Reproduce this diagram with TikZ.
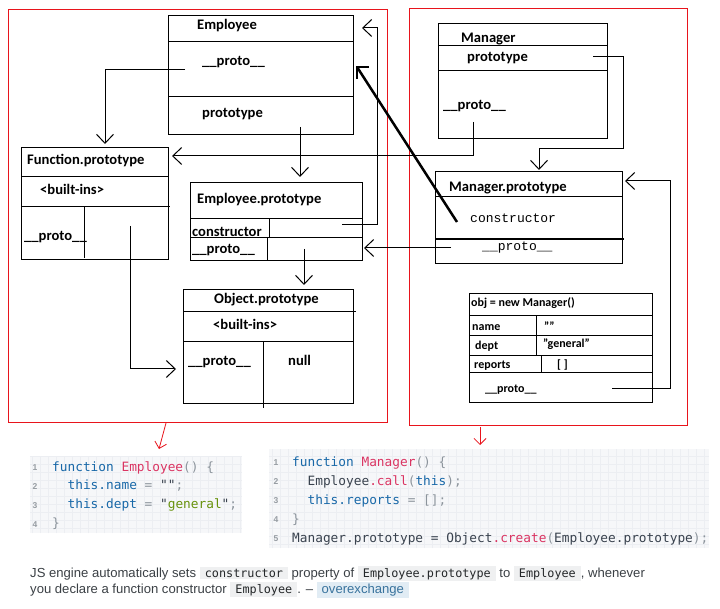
\documentclass[tikz,border=0pt]{standalone}
\usepackage{fontspec}
\setmainfont{Carlito}
\setsansfont{Liberation Sans}
\setmonofont{DejaVu Sans Mono}
\newfontfamily\courierfont{Liberation Mono}
\usetikzlibrary{arrows.meta}

\definecolor{framered}{RGB}{232,20,28}
\definecolor{kwblue}{RGB}{24,104,168}
\definecolor{fnred}{RGB}{218,52,98}
\definecolor{strgreen}{RGB}{104,146,12}
\definecolor{punct}{RGB}{140,148,156}
\definecolor{plain}{RGB}{57,66,78}
\definecolor{codebg}{RGB}{246,247,249}
\definecolor{codegrid}{RGB}{236,238,242}
\definecolor{lineno}{RGB}{150,156,162}
\definecolor{txtcol}{RGB}{59,64,69}
\definecolor{inlbg}{RGB}{239,240,241}
\definecolor{inltext}{RGB}{36,39,41}
\definecolor{linkbg}{RGB}{225,236,244}
\definecolor{linkcol}{RGB}{57,115,157}

\newcommand{\kw}[1]{\textcolor{kwblue}{#1}}
\newcommand{\fn}[1]{\textcolor{fnred}{#1}}
\newcommand{\str}[1]{\textcolor{strgreen}{#1}}
\newcommand{\pu}[1]{\textcolor{punct}{#1}}
\newcommand{\pl}[1]{\textcolor{plain}{#1}}
\newcommand{\ind}{\phantom{xx}}
\newcommand{\inl}[1]{{\setlength{\fboxsep}{2pt}\colorbox{inlbg}{\hspace{3pt}\ttfamily\fontsize{11.8}{14}\selectfont\color{inltext}#1\hspace{3pt}}}}
\newcommand{\linkbox}[1]{{\setlength{\fboxsep}{2pt}\colorbox{linkbg}{\hspace{3pt}\color{linkcol}#1\hspace{3pt}}}}

\tikzset{
  box/.style={draw, line width=1pt, inner sep=0pt, anchor=north west},
  lbl/.style={anchor=base west, inner sep=0pt, font=\bfseries\fontsize{14.6}{16}\selectfont},
  objlbl/.style={anchor=base west, inner sep=0pt, font=\bfseries\fontsize{12}{14}\selectfont},
  mono/.style={anchor=base west, inner sep=0pt, font=\courierfont\fontsize{13}{15}\selectfont},
  arr/.style={-{Straight Barb[length=9pt,width=17pt]}, line width=1pt},
  thickline/.style={line width=2.5pt},
  redframe/.style={draw=framered, line width=1.2pt},
  redarr/.style={-{Straight Barb[length=6pt,width=12pt]}, draw=framered, line width=0.8pt},
  code/.style={anchor=base west, inner sep=0pt, font=\ttfamily\fontsize{12.8}{15}\selectfont},
  lnum/.style={anchor=base, inner sep=0pt, text=lineno, font=\sffamily\bfseries\fontsize{8.5}{10}\selectfont},
  note/.style={anchor=base west, inner sep=0pt, text=txtcol, font=\sffamily\fontsize{13.1}{15}\selectfont}
}

\begin{document}
\begin{tikzpicture}[x=1pt, y=-1pt]
\useasboundingbox (0,0) rectangle (720,609);
\fill[white] (0,0) rectangle (720,609);

% red frames
\draw[redframe] (8.5,9.5) rectangle (387.5,422.5);
\draw[redframe] (409.5,8.5) rectangle (687.5,425.5);
\coordinate (redLstart) at (166,423);
\coordinate (redLend) at (159,449);
\coordinate (redRstart) at (480,427);
\coordinate (redRend) at (480,445);
\draw[redarr] (redLstart) -- (redLend);
\draw[redarr] (redRstart) -- (redRend);

% Employee
\node[box, minimum width=185pt, minimum height=119pt] (employee) at (168,15) {};
\draw[line width=1pt] (168,42) -- (353,42);
\draw[line width=1pt] (168,97) -- (353,97);
\node[lbl] (empName) at (197,29.5) {Employee};
\node[lbl] (empProto) at (202,66) {\_\_proto\_\_};
\node[lbl] (empPr) at (202,118) {prototype};

% Function.prototype
\node[box, minimum width=147pt, minimum height=112pt] (fnproto) at (21,147) {};
\draw[line width=1pt] (21,177) -- (168,177);
\draw[line width=1pt] (21,207) -- (170,207);
\draw[line width=1pt] (84,207) -- (84,258);
\node[lbl] (fpName) at (27,165) {Function.prototype};
\node[lbl] (fpBuilt) at (40,195) {<built-ins>};
\node[lbl] (fpProto) at (24,241) {\_\_proto\_\_};

% Employee.prototype
\node[box, minimum width=172pt, minimum height=78pt] (empproto) at (190,182) {};
\draw[line width=1pt] (190,219) -- (363,219);
\draw[line width=1pt] (190,238) -- (362,238);
\draw[line width=1pt] (269,219) -- (269,238);
\draw[line width=1pt] (267,238) -- (267,260);
\node[lbl] (epName) at (197,204) {Employee.prototype};
\node[lbl] (epCtor) at (192,237) {constructor};
\node[lbl] (epProto) at (192,254) {\_\_proto\_\_};

% Object.prototype
\node[box, minimum width=170pt, minimum height=114pt] (objproto) at (183,289) {};
\draw[line width=1pt] (183,312) -- (356,312);
\draw[line width=1pt] (183,342) -- (353,342);
\draw[line width=1pt] (263,342) -- (263,408);
\node[lbl] (opName) at (214,304) {Object.prototype};
\node[lbl] (opBuilt) at (213,330) {<built-ins>};
\node[lbl] (opProto) at (188,366) {\_\_proto\_\_};
\node[lbl] (opNull) at (288,366) {null};

% Manager
\node[box, minimum width=169pt, minimum height=115pt] (manager) at (438,23) {};
\draw[line width=1pt] (438,46) -- (607,46);
\draw[line width=1pt] (438,71) -- (607,71);
\node[lbl] (mgName) at (461,43) {Manager};
\node[lbl] (mgPr) at (467,62) {prototype};
\node[lbl] (mgProto) at (443,110) {\_\_proto\_\_};

% Manager.prototype
\node[box, minimum width=187pt, minimum height=92pt] (mproto) at (435,171) {};
\draw[line width=1pt] (435,197) -- (622,197);
\draw[line width=2pt] (435,239) -- (624,239);
\node[lbl] (mpName) at (449,192) {Manager.prototype};
\node[mono] (mpCtor) at (470,223) {constructor};
\node[mono] (mpProto) at (482,251) {\_\_proto\_\_};

% obj = new Manager()
\node[box, minimum width=183pt, minimum height=109pt] (objbox) at (469,293) {};
\draw[line width=1pt] (469,316) -- (652,316);
\draw[line width=1pt] (469,336) -- (652,336);
\draw[line width=1pt] (469,356) -- (652,356);
\draw[line width=1pt] (469,373) -- (652,373);
\draw[line width=1pt] (536,316) -- (536,356);
\draw[line width=1pt] (541,356) -- (541,373);
\node[objlbl] (obTitle) at (471,307) {obj = new Manager()};
\node[objlbl] (obName) at (472,331) {name};
\node[objlbl] (obNameV) at (544,331) {""};
\node[objlbl] (obDept) at (475,350) {dept};
\node[objlbl] (obDeptV) at (543,348) {"general"};
\node[objlbl] (obRep) at (474,369) {reports};
\node[objlbl] (obRepV) at (557,369) {[ ]};
\node[objlbl] (obProto) at (485,392) {\_\_proto\_\_};

% connectors
\coordinate (empProtoOut) at (185,70);
\coordinate (c1) at (105,70);
\draw[arr, shorten >=3pt] (empProtoOut) -- (c1) -- (fnproto.north -| c1);

\coordinate (empPrOut) at (300,127);
\draw[arr, shorten >=5pt] (empPrOut) -- (empPrOut |- empproto.north);

\coordinate (epProtoOut) at (304,249);
\draw[arr, shorten >=4pt] (epProtoOut) -- (epProtoOut |- objproto.north);

\coordinate (fpProtoOut) at (130,226);
\coordinate (c4) at (130,369);
\draw[arr, shorten >=7pt] (fpProtoOut) -- (c4) -- (c4 -| objproto.west);

\coordinate (epCtorOut) at (342,225);
\coordinate (c5a) at (377,225);
\coordinate (c5b) at (377,28);
\draw[arr, shorten >=8pt] (epCtorOut) -- (c5a) -- (c5b) -- (c5b -| employee.east);

\coordinate (mgProtoOut) at (473,122);
\coordinate (c6) at (473,156);
\draw[arr, shorten >=3pt] (mgProtoOut) -- (c6) -- (c6 -| fnproto.east);

\coordinate (mgPrOut) at (593,57);
\coordinate (c7a) at (623,57);
\coordinate (c7b) at (623,149);
\coordinate (c7c) at (539,149);
\draw[arr, shorten >=1pt] (mgPrOut) -- (c7a) -- (c7b) -- (c7c) -- (c7c |- mproto.north);

\coordinate (mpCtorOut) at (457,222);
\coordinate (empTip) at (357,67);
\draw[thickline] (mpCtorOut) -- (empTip);
\draw[thickline] ([xshift=12pt]empTip) -- (empTip) -- ([yshift=-12pt]empTip);

\coordinate (mpProtoOut) at (451,248);
\draw[arr, shorten >=1pt] (mpProtoOut) -- (mpProtoOut -| empproto.east);

\coordinate (obProtoOut) at (612,388);
\coordinate (c10a) at (670,388);
\coordinate (c10b) at (670,181);
\draw[arr, shorten >=2pt] (obProtoOut) -- (c10a) -- (c10b) -- (c10b -| mproto.east);

% code: Employee
\fill[codebg] (30,456) rectangle (242,533);
\draw[codegrid, step=8pt] (30,456) grid (242,533);
\node[lnum] (le1) at (35,470) {1};
\node[lnum] (le2) at (35,489) {2};
\node[lnum] (le3) at (35,508) {3};
\node[lnum] (le4) at (35,527) {4};
\node[code] (ce1) at (52,471) {\kw{function} \fn{Employee}\pu{() \{}};
\node[code] (ce2) at (52,489) {\ind\kw{this.name} \pu{=} \pl{""}\pu{;}};
\node[code] (ce3) at (52,508) {\ind\kw{this.dept} \pu{=} \pl{"}\str{general}\pl{"}\pu{;}};
\node[code] (ce4) at (52,527) {\pu{\}}};

% code: Manager
\fill[codebg] (269,449) rectangle (709,548);
\draw[codegrid, step=8pt] (269,449) grid (709,548);
\node[lnum] (lm1) at (276,465) {1};
\node[lnum] (lm2) at (276,484) {2};
\node[lnum] (lm3) at (276,503) {3};
\node[lnum] (lm4) at (276,522) {4};
\node[lnum] (lm5) at (276,541) {5};
\node[code] (cm1) at (292,466) {\kw{function} \fn{Manager}\pu{() \{}};
\node[code] (cm2) at (292,485) {\ind\pl{Employee}\fn{.call}\pu{(}\kw{this}\pu{);}};
\node[code] (cm3) at (292,504) {\ind\kw{this.reports} \pu{= [];}};
\node[code] (cm4) at (292,523) {\pu{\}}};
\node[code] (cm5) at (292,542) {\pl{Manager.prototype = Object}\fn{.create}\pu{(}\pl{Employee.prototype}\pu{);}};

% comment below
\node[note] (note1) at (30,577) {JS engine automatically sets \inl{constructor} property of \inl{Employee.prototype} to \inl{Employee}, whenever};
\node[note] (note2) at (30,593) {you declare a function constructor \inl{Employee}. –\ \linkbox{overexchange}};

\end{tikzpicture}
\end{document}
